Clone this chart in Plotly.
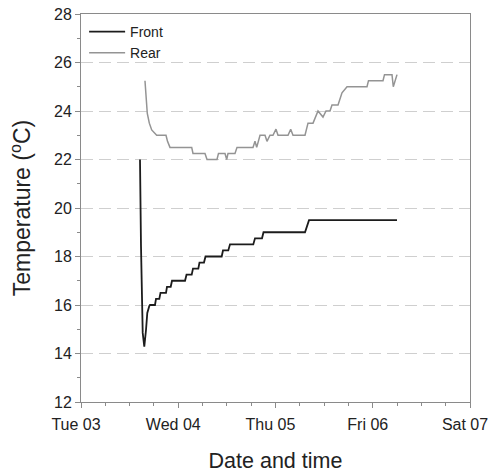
import pandas as pd
import plotly.graph_objects as go

# Logger start: midnight, Tuesday 3 December 2013
START = pd.Timestamp("2013-12-03 00:00")

# Front sensor: hours since start, temperature (°C)
front_hours = [14.56, 14.60, 14.81, 15.23, 15.62, 16.04, 16.36, 16.86, 17.03,
               18.26, 18.51, 19.32, 19.62, 20.98, 21.22, 22.14, 22.46, 25.67,
               26.04, 27.32, 27.64, 28.95, 29.24, 30.35, 30.73, 34.72, 35.04,
               36.35, 36.77, 42.52, 42.94, 44.67, 45.04, 55.28, 56.27, 77.99]
front_temp = [22.0, 20.9, 18.4, 14.85, 14.28, 14.97, 15.67, 15.96, 16.0,
              16.0, 16.25, 16.25, 16.5, 16.5, 16.75, 16.75, 17.0, 17.0,
              17.25, 17.25, 17.5, 17.5, 17.75, 17.75, 18.0, 18.0, 18.25,
              18.25, 18.5, 18.5, 18.75, 18.75, 19.0, 19.0, 19.5, 19.5]

# Rear sensor: hours since start, temperature (°C)
rear_hours = [15.79, 16.04, 16.36, 16.86, 17.45, 18.68, 20.98, 21.35, 21.96,
              27.32, 27.64, 30.60, 31.10, 33.56, 33.93, 35.54, 35.96, 36.28,
              38.00, 38.50, 42.45, 42.94, 43.36, 44.18, 45.41, 45.90, 46.64,
              47.38, 48.12, 48.62, 51.09, 51.75, 52.32, 55.28, 56.02, 57.26,
              58.49, 59.72, 60.46, 61.45, 61.94, 63.43, 64.41, 65.65, 70.58,
              70.95, 74.53, 74.90, 76.75, 77.07, 77.99]
rear_temp = [25.25, 24.45, 23.9, 23.5, 23.22, 23.0, 23.0, 22.75, 22.5,
             22.5, 22.25, 22.25, 22.0, 22.0, 22.25, 22.25, 22.0, 22.25,
             22.25, 22.5, 22.5, 22.75, 22.5, 23.0, 23.0, 22.75, 23.0,
             23.0, 23.25, 23.0, 23.0, 23.25, 23.0, 23.0, 23.5, 23.5,
             24.0, 23.75, 24.0, 24.0, 24.25, 24.25, 24.75, 25.0, 25.0,
             25.25, 25.25, 25.5, 25.5, 25.0, 25.5]

y_ticks = [12, 14, 16, 18, 20, 22, 24, 26, 28]


def to_time(hours):
    return START + pd.to_timedelta(hours, unit="h")


FONT = "Liberation Sans, Arial, sans-serif"
AXIS_GREY = "#8a8a8a"

fig = go.Figure()
fig.add_trace(go.Scatter(
    x=to_time(front_hours), y=front_temp, mode="lines", name="Front",
    line=dict(color="#1c1c1c", width=1.8),
))
fig.add_trace(go.Scatter(
    x=to_time(rear_hours), y=rear_temp, mode="lines", name="Rear",
    line=dict(color="#949494", width=1.5),
))

fig.update_layout(
    width=488, height=473,
    margin=dict(l=81, r=18, t=14, b=71),
    paper_bgcolor="white", plot_bgcolor="white",
    font=dict(family=FONT, color="#222222", size=16),
    showlegend=True,
    legend=dict(
        x=0.008, y=0.995, xanchor="left", yanchor="top",
        bgcolor="rgba(0,0,0,0)", borderwidth=0,
        font=dict(size=14, family=FONT, color="#222222"),
        tracegroupgap=0, itemwidth=36,
    ),
)

fig.update_xaxes(
    type="date", automargin=False,
    range=[START, START + pd.Timedelta(days=4)],
    tick0=START, dtick=86400000, tickformat="%a %d",
    ticks="outside", ticklen=5, tickcolor=AXIS_GREY, tickwidth=1,
    minor=dict(ticks="outside", ticklen=3, dtick=6 * 3600000,
               tickcolor=AXIS_GREY, showgrid=False),
    showline=True, linecolor=AXIS_GREY, linewidth=1, mirror=True,
    showgrid=False, zeroline=False,
    ticklabeloverflow="allow", ticklabelstandoff=3, ticklabelshift=-5,
    tickfont=dict(size=16, family=FONT),
    title=dict(text="Date and time", font=dict(size=21.5, family=FONT),
               standoff=20),
)

fig.update_yaxes(
    automargin=False,
    range=[12, 28], tickvals=y_ticks,
    ticks="outside", ticklen=5, tickcolor=AXIS_GREY, tickwidth=1,
    minor=dict(ticks="outside", ticklen=3, dtick=1,
               tickcolor=AXIS_GREY, showgrid=False),
    showline=True, linecolor=AXIS_GREY, linewidth=1, mirror=True,
    showgrid=True, gridcolor="#cfcfcf", gridwidth=1, griddash="12px,6px",
    zeroline=False,
    tickfont=dict(size=16, family=FONT),
    title=dict(text="Temperature (<sup>o</sup>C)",
               font=dict(size=23, family=FONT), standoff=16),
)

fig.write_html("out.html")
